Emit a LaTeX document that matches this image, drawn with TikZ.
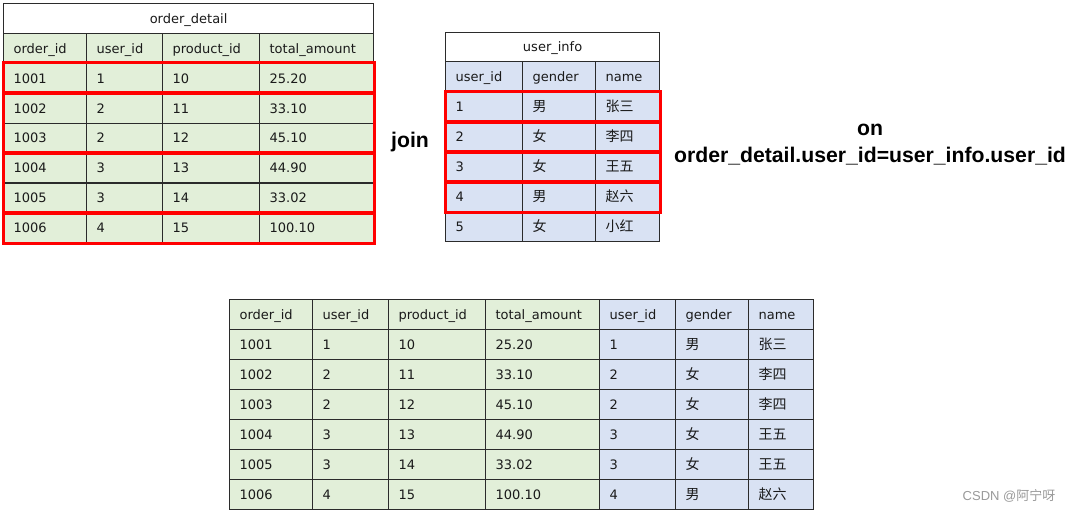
\documentclass[tikz,border=0pt]{standalone}
\usepackage{fontspec}
\setmainfont{DejaVu Sans}
\setsansfont{Liberation Sans}
\newfontfamily\cjk{Noto Sans CJK SC}
\newcommand\zh[1]{{\cjk\fontsize{14}{15}\selectfont #1}}
\definecolor{gfill}{HTML}{E2EFD9}
\definecolor{bfill}{HTML}{D9E2F3}
\definecolor{bline}{HTML}{2B2B2B}
\definecolor{tcol}{HTML}{1A1A1A}
\definecolor{wmgray}{HTML}{9A9A9A}
\tikzset{
  cell/.style={draw=bline, line width=1.2pt, inner xsep=10pt, inner ysep=0pt,
    anchor=north west, align=left, font=\fontsize{13}{15}\selectfont, text=tcol,
    text height=9.5pt, text depth=0pt},
  gcell/.style={cell, fill=gfill},
  bcell/.style={cell, fill=bfill},
  titlecell/.style={draw=bline, line width=1.2pt, fill=white, inner sep=0pt, text=tcol,
    anchor=north west, font=\fontsize{13}{15}\selectfont, text height=9.5pt, text depth=0pt},
  redbox/.style={draw=red, line width=3pt},
  bigtext/.style={font=\sffamily\bfseries\fontsize{21.2}{24}\selectfont, inner sep=0pt},
}
\begin{document}
\begin{tikzpicture}[x=1pt,y=-1pt]
\useasboundingbox (0,0) rectangle (1075,512);
\fill[white] (0,0) rectangle (1075,512);

% ---------- order_detail ----------
\node[titlecell, minimum width=370pt, minimum height=30pt] (od-title) at (3,3) {order\_detail};
\foreach \ca/\cb/\cc/\cd [count=\i] in {order\_id/user\_id/product\_id/total\_amount,
    1001/1/10/25.20, 1002/2/11/33.10, 1003/2/12/45.10, 1004/3/13/44.90,
    1005/3/14/33.02, 1006/4/15/100.10}{
  \foreach \cx/\cw/\ct [count=\j] in {3/83/\ca, 86/76/\cb, 162/97/\cc, 259/114/\cd}{
    \pgfmathsetmacro\tw{\cw-20}
    \node[gcell, text width=\tw pt, minimum height=29.86pt] (od-\i-\j) at (\cx,{33+29.86*(\i-1)}) {\ct};
  }
}
\draw[redbox] (od-2-1.north west) rectangle (od-2-4.south east);
\draw[redbox] (od-3-1.north west) rectangle (od-4-4.south east);
\draw[redbox] (od-5-1.north west) rectangle (od-6-4.south east);
\draw[redbox] (od-7-1.north west) rectangle (od-7-4.south east);

% ---------- user_info ----------
\node[titlecell, minimum width=214pt, minimum height=29pt] (ui-title) at (445,32) {user\_info};
\foreach \ca/\cb/\cc [count=\i] in {user\_id/gender/name,
    1/\zh{男}/\zh{张三}, 2/\zh{女}/\zh{李四}, 3/\zh{女}/\zh{王五},
    4/\zh{男}/\zh{赵六}, 5/\zh{女}/\zh{小红}}{
  \foreach \cx/\cw/\ct [count=\j] in {445/77/\ca, 522/73/\cb, 595/64/\cc}{
    \pgfmathsetmacro\tw{\cw-20}
    \node[bcell, text width=\tw pt, minimum height=30pt] (ui-\i-\j) at (\cx,{61+30*(\i-1)}) {\ct};
  }
}
\foreach \r in {2,3,4,5}{
  \draw[redbox] (ui-\r-1.north west) rectangle (ui-\r-3.south east);
}

% ---------- join / on ----------
\node[bigtext] (join) at (410,142) {join};
\node[bigtext] (on) at (870,130) {on};
\node[bigtext] (cond) at (870,156) {order\_detail.user\_id=user\_info.user\_id};

% ---------- result ----------
\foreach \ca/\cb/\cc/\cd/\ce/\cf/\cg [count=\i] in {
    order\_id/user\_id/product\_id/total\_amount/user\_id/gender/name,
    1001/1/10/25.20/1/\zh{男}/\zh{张三},
    1002/2/11/33.10/2/\zh{女}/\zh{李四},
    1003/2/12/45.10/2/\zh{女}/\zh{李四},
    1004/3/13/44.90/3/\zh{女}/\zh{王五},
    1005/3/14/33.02/3/\zh{女}/\zh{王五},
    1006/4/15/100.10/4/\zh{男}/\zh{赵六}}{
  \foreach \cx/\cw/\ct [count=\j] in {229/83/\ca, 312/76/\cb, 388/97/\cc, 485/114/\cd}{
    \pgfmathsetmacro\tw{\cw-20}
    \node[gcell, text width=\tw pt, minimum height=30pt] (rs-\i-\j) at (\cx,{299+30*(\i-1)}) {\ct};
  }
  \foreach \cx/\cw/\ct [count=\j from 5] in {599/76/\ce, 675/73/\cf, 748/65/\cg}{
    \pgfmathsetmacro\tw{\cw-20}
    \node[bcell, text width=\tw pt, minimum height=30pt] (rs-\i-\j) at (\cx,{299+30*(\i-1)}) {\ct};
  }
}

% ---------- watermark ----------
\node[text=wmgray, font=\sffamily\fontsize{13}{15}\selectfont, inner sep=0pt] (wm) at (1009,496) {CSDN @{\cjk 阿宁呀}};
\end{tikzpicture}
\end{document}
